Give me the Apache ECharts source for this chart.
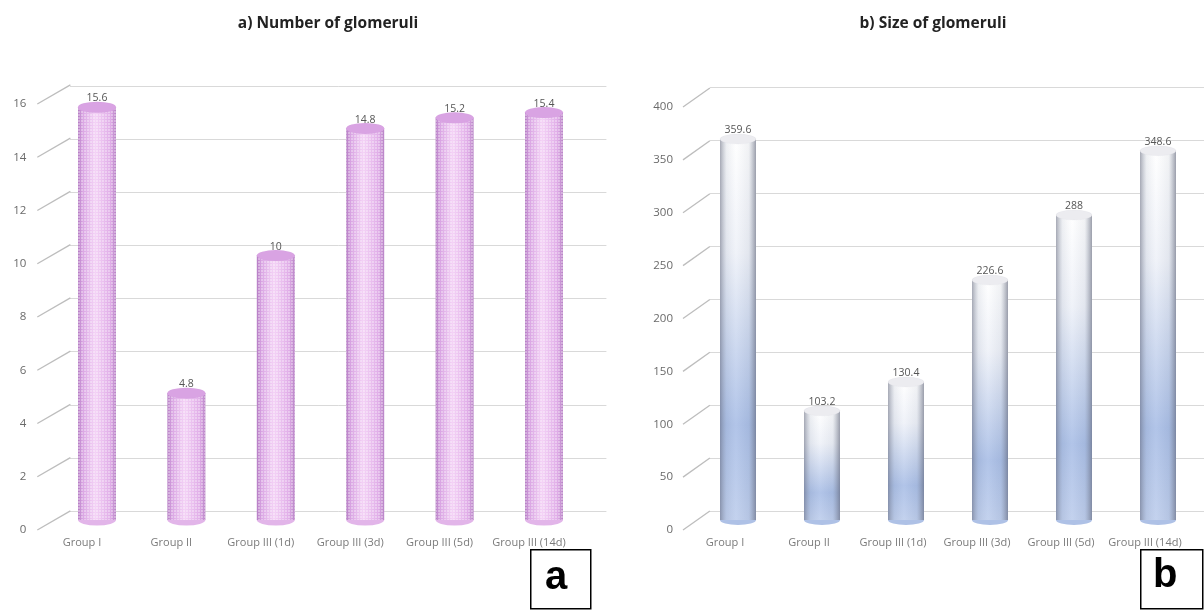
<!DOCTYPE html>
<html><head><meta charset="utf-8">
<script src="https://cdn.jsdelivr.net/npm/echarts@6/dist/echarts.min.js"></script>
<style>html,body{margin:0;padding:0;background:#fff}#c{width:1204px;height:612px}</style>
</head><body><div id="c"></div>
<script>
const categories = ['Group I', 'Group II', 'Group III (1d)', 'Group III (3d)', 'Group III (5d)', 'Group III (14d)'];
const glomNumber = [15.6, 4.8, 10, 14.8, 15.2, 15.4];
const glomSize = [359.6, 103.2, 130.4, 226.6, 288, 348.6];
const ticksNumber = [0, 2, 4, 6, 8, 10, 12, 14, 16];
const ticksSize = [0, 50, 100, 150, 200, 250, 300, 350, 400];
const titleA = 'a) Number of glomeruli';
const titleB = 'b) Size of glomeruli';

const chart = echarts.init(document.getElementById('c'), null, {renderer: 'canvas'});
const grid = [], xAxis = [], yAxis = [], series = [];
const FONT = 'Open Sans';

function panel(cfg) {
  const base = grid.length;
  const band = cfg.band * categories.length;
  grid.push({left: cfg.backLeft, top: cfg.backTop, width: band, height: cfg.backH});
  grid.push({left: cfg.barCenter0 - cfg.band / 2, top: cfg.barTop, width: band, height: cfg.barH});
  grid.push({left: cfg.frontLeft, top: cfg.frontTop, width: band, height: cfg.frontH});
  const xBase = xAxis.length;
  for (let k = 0; k < 3; k++) {
    xAxis.push({
      type: 'category', gridIndex: base + k, data: categories, show: k === 2,
      axisLine: {show: false}, axisTick: {show: false},
      axisLabel: {show: k === 2, color: '#7a7a7a', fontSize: 11, fontFamily: FONT, margin: 7, interval: 0}
    });
    yAxis.push({
      type: 'value', gridIndex: base + k, min: 0, max: cfg.max, interval: cfg.interval,
      show: k !== 1,
      axisLine: {show: false}, axisTick: {show: false},
      axisLabel: {show: k === 2, color: '#6a6a6a', fontSize: 11.5, fontFamily: FONT, margin: cfg.labelMargin},
      splitLine: {show: k === 0, lineStyle: {color: '#d9d9d9', width: 1}}
    });
  }
  const xWall = xAxis.length;
  xAxis.push({type: 'value', gridIndex: base + 2, min: 0, max: categories.length, show: false,
    splitLine: {show: false}});
  cfg.ticks.forEach(v => {
    series.push({
      type: 'line', xAxisIndex: xWall, yAxisIndex: base + 2, silent: true, z: 10, clip: false,
      symbol: 'none', animation: false,
      lineStyle: {color: '#bdbdbd', width: 1.3},
      data: [[0, v], [cfg.depthCat, v + cfg.depthVal]]
    });
  });
  series.push({
    type: 'pictorialBar', xAxisIndex: xBase + 1, yAxisIndex: base + 1, silent: true, z: 2,
    symbol: 'circle', symbolSize: [cfg.barW, cfg.capH], symbolPosition: 'start', symbolOffset: [0, '50%'],
    itemStyle: {color: cfg.bottomColor},
    data: cfg.values
  });
  series.push({
    type: 'bar', xAxisIndex: xBase + 1, yAxisIndex: base + 1, z: 3, barWidth: cfg.barW, silent: true,
    itemStyle: cfg.bodyStyle,
    label: {show: true, position: 'top', distance: 3, color: '#555', fontSize: 10.5, fontFamily: FONT},
    data: cfg.values
  });
  if (cfg.overlay) {
    series.push({
      type: 'bar', xAxisIndex: xBase + 1, yAxisIndex: base + 1, z: 4, barWidth: cfg.barW, barGap: '-100%', silent: true,
      itemStyle: {color: cfg.overlay}, data: cfg.values
    });
  }
  series.push({
    type: 'pictorialBar', xAxisIndex: xBase + 1, yAxisIndex: base + 1, silent: true, z: 5,
    symbol: 'circle', symbolSize: [cfg.barW, cfg.capH], symbolPosition: 'end', symbolOffset: [0, '-50%'],
    itemStyle: cfg.capStyle,
    data: cfg.values
  });
}

panel({
  values: glomNumber, ticks: ticksNumber, max: 16, interval: 2, band: 89.4,
  backLeft: 70, backTop: 86, backH: 425,
  barCenter0: 97, barTop: 96.4, barH: 423.6,
  frontLeft: 37.3, frontTop: 104, frontH: 426, labelMargin: 11,
  depthCat: 0.37, depthVal: 0.72,
  barW: 38, capH: 11,
  bottomColor: '#e2b5e9',
  bodyStyle: {
    color: new echarts.graphic.LinearGradient(0, 0, 1, 0, [
      {offset: 0, color: '#b47cc3'}, {offset: 0.12, color: '#d9a5e3'},
      {offset: 0.45, color: '#f4d3f6'}, {offset: 0.85, color: '#e0ade8'}, {offset: 1, color: '#b883c6'}]),
    decal: {symbol: 'circle', symbolSize: 1, color: 'rgba(255,255,255,0.45)', dashArrayX: [2, 1], dashArrayY: [2, 1]}
  },
  capStyle: {color: '#d9a3e3', borderColor: '#b27ac2', borderWidth: 1}
});

panel({
  values: glomSize, ticks: ticksSize, max: 400, interval: 50, band: 84,
  backLeft: 710, backTop: 87, backH: 424,
  barCenter0: 738, barTop: 96, barH: 424,
  frontLeft: 683, frontTop: 107, frontH: 423, labelMargin: 10,
  depthCat: 0.32, depthVal: 18,
  barW: 36, capH: 10,
  bottomColor: '#aec1e6',
  bodyStyle: {
    color: new echarts.graphic.LinearGradient(0, 0, 0, 1, [
      {offset: 0, color: '#ffffff'}, {offset: 0.3, color: '#eef1f8'},
      {offset: 0.75, color: '#a9bee6'}, {offset: 1, color: '#bdcdec'}])
  },
  overlay: new echarts.graphic.LinearGradient(0, 0, 1, 0, [
    {offset: 0, color: 'rgba(95,100,120,0.55)'}, {offset: 0.18, color: 'rgba(140,150,170,0.15)'},
    {offset: 0.45, color: 'rgba(255,255,255,0.1)'}, {offset: 0.8, color: 'rgba(120,130,150,0.1)'},
    {offset: 1, color: 'rgba(90,95,115,0.6)'}]),
  capStyle: {color: '#ececf0', borderColor: '#a4a4ac', borderWidth: 1}
});

chart.setOption({
  backgroundColor: '#ffffff',
  animation: false,
  title: [
    {text: titleA, left: 323, top: 11, textAlign: 'center', textStyle: {fontSize: 15.5, fontWeight: 'bold', color: '#222', fontFamily: FONT}},
    {text: titleB, left: 928, top: 11, textAlign: 'center', textStyle: {fontSize: 15.5, fontWeight: 'bold', color: '#222', fontFamily: FONT}}
  ],
  grid: grid, xAxis: xAxis, yAxis: yAxis, series: series,
  graphic: [
    {type: 'rect', left: 530, top: 549, shape: {width: 60, height: 59}, style: {fill: '#fff', stroke: '#000', lineWidth: 1.5}},
    {type: 'text', left: 545, top: 558, style: {text: 'a', fontSize: 40, fontWeight: 'bold', fontFamily: 'Liberation Sans', fill: '#000'}},
    {type: 'rect', left: 1140, top: 549, shape: {width: 62, height: 59}, style: {fill: '#fff', stroke: '#000', lineWidth: 1.5}},
    {type: 'text', left: 1153, top: 556, style: {text: 'b', fontSize: 40, fontWeight: 'bold', fontFamily: 'Liberation Sans', fill: '#000'}}
  ]
});
</script></body></html>
